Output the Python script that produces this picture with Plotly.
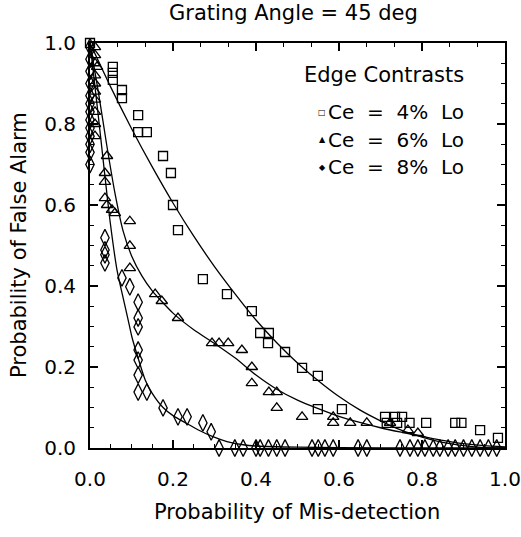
import plotly.graph_objects as go

# ---- data ----
sq_x = [0.0, 0.055, 0.055, 0.055, 0.077, 0.077, 0.116, 0.116, 0.137, 0.176, 0.195, 0.2, 0.212,
        0.272, 0.330, 0.390, 0.41, 0.431, 0.429, 0.47, 0.511, 0.549, 0.549, 0.607,
        0.711, 0.735, 0.752, 0.715, 0.74, 0.77, 0.81, 0.88, 0.895, 0.94, 0.983]
sq_y = [1.0, 0.941, 0.926, 0.909, 0.884, 0.864, 0.822, 0.780, 0.780, 0.721, 0.679, 0.6, 0.538,
        0.417, 0.380, 0.338, 0.284, 0.284, 0.259, 0.237, 0.198, 0.178, 0.096, 0.096,
        0.077, 0.077, 0.077, 0.062, 0.062, 0.062, 0.062, 0.062, 0.062, 0.044, 0.025]

tri_x = [0.012, 0.012, 0.012, 0.012, 0.012, 0.012, 0.012, 0.012, 0.012, 0.012, 0.017,
         0.041, 0.036, 0.036, 0.036, 0.041, 0.053, 0.06, 0.096, 0.096, 0.096,
         0.157, 0.173, 0.212, 0.294, 0.311, 0.333, 0.366, 0.39, 0.39, 0.431, 0.45, 0.45,
         0.511, 0.586, 0.586, 0.627, 0.667, 0.723, 0.766, 0.79]
tri_y = [0.99, 0.97, 0.95, 0.92, 0.90, 0.88, 0.86, 0.83, 0.80, 0.77, 0.941,
         0.721, 0.679, 0.657, 0.617, 0.600, 0.588, 0.580, 0.560, 0.499, 0.444,
         0.380, 0.363, 0.321, 0.259, 0.259, 0.259, 0.242, 0.200, 0.160, 0.138, 0.138, 0.099,
         0.077, 0.077, 0.062, 0.062, 0.062, 0.062, 0.044, 0.037]

dia_x = [0.0, 0.0, 0.0, 0.0, 0.0, 0.0, 0.0, 0.0, 0.0, 0.0, 0.0, 0.0, 0.0,
         0.036, 0.036, 0.036, 0.036, 0.077, 0.096, 0.116, 0.116, 0.116, 0.116, 0.116,
         0.116, 0.116, 0.137, 0.176, 0.212, 0.234, 0.272, 0.292,
         0.311, 0.349, 0.369, 0.40, 0.41, 0.43, 0.45, 0.47, 0.535, 0.55, 0.566, 0.586,
         0.646, 0.667, 0.747, 0.771, 0.79, 0.807, 0.827, 0.843, 0.863, 0.88, 0.90,
         0.92, 0.94, 0.96, 0.98]
dia_y = [0.99, 0.96, 0.93, 0.90, 0.87, 0.85, 0.83, 0.81, 0.79, 0.77, 0.75, 0.73, 0.70,
         0.519, 0.489, 0.477, 0.457, 0.420, 0.398, 0.360, 0.321, 0.299, 0.242, 0.217,
         0.180, 0.138, 0.138, 0.099, 0.077, 0.077, 0.062, 0.040,
         0.0, 0.0, 0.0, 0.0, 0.0, 0.0, 0.0, 0.0, 0.0, 0.0, 0.0, 0.0,
         0.0, 0.0, 0.0, 0.0, 0.0, 0.0, 0.0, 0.0, 0.0, 0.0, 0.0,
         0.0, 0.0, 0.0, 0.0]

# fitted curves
fit4_x = [0, 0.05, 0.1, 0.15, 0.2, 0.25, 0.3, 0.35, 0.4, 0.45, 0.5, 0.55, 0.6, 0.65,
          0.7, 0.75, 0.8, 0.85, 0.9, 0.95, 1.0]
fit4_y = [1.0, 0.891, 0.789, 0.694, 0.605, 0.523, 0.448, 0.380, 0.316, 0.260, 0.210,
          0.166, 0.127, 0.094, 0.067, 0.044, 0.027, 0.014, 0.006, 0.001, 0.0]

fit6_x = [0, 0.02, 0.04, 0.06, 0.08, 0.1, 0.125, 0.15, 0.2, 0.25, 0.3, 0.35, 0.4, 0.45,
          0.5, 0.55, 0.6, 0.65, 0.7, 0.75, 0.8, 0.85, 0.9, 0.95, 1.0]
fit6_y = [1.0, 0.88, 0.75, 0.63, 0.535, 0.475, 0.425, 0.388, 0.333, 0.292, 0.258, 0.222,
          0.180, 0.145, 0.118, 0.097, 0.078, 0.063, 0.050, 0.039, 0.029, 0.019, 0.011,
          0.006, 0.003]

fit8_x = [0, 0.02, 0.035, 0.048, 0.065, 0.08, 0.092, 0.101, 0.115, 0.133, 0.15, 0.176,
          0.2, 0.234, 0.26, 0.296, 0.33, 0.369, 0.4, 0.5, 0.7, 1.0]
fit8_y = [1.0, 0.82, 0.68, 0.563, 0.44, 0.37, 0.316, 0.274, 0.225, 0.168, 0.135, 0.100,
          0.080, 0.060, 0.045, 0.028, 0.016, 0.008, 0.005, 0.002, 0.0005, 0.0]

title_text = "Grating Angle = 45 deg"
x_title = "Probability of Mis-detection"
y_title = "Probability of False Alarm"
legend_title = "Edge Contrasts"
legend_labels = ["Ce = 4% Lo", "Ce = 6% Lo", "Ce = 8% Lo"]
legend_syms = ["\u25a1", "\u25b2", "\u25c6"]
tick_vals = [0.0, 0.2, 0.4, 0.6, 0.8, 1.0]
tick_text = ["0.0", "0.2", "0.4", "0.6", "0.8", "1.0"]

FONT = "DejaVu Sans"

fig = go.Figure()
for fx, fy in [(fit4_x, fit4_y), (fit6_x, fit6_y), (fit8_x, fit8_y)]:
    fig.add_trace(go.Scatter(x=fx, y=fy, mode="lines",
                             line=dict(color="black", width=1.3, shape="spline", smoothing=0.6),
                             showlegend=False, hoverinfo="skip"))

fig.add_trace(go.Scatter(x=sq_x, y=sq_y, mode="markers", showlegend=False, cliponaxis=False,
                         marker=dict(symbol="square-open", size=9, color="black", line=dict(width=1.3))))
fig.add_trace(go.Scatter(x=tri_x, y=tri_y, mode="markers", showlegend=False, cliponaxis=False,
                         marker=dict(symbol="triangle-up-open", size=10, color="black", line=dict(width=1.3))))
fig.add_trace(go.Scatter(x=dia_x, y=dia_y, mode="markers", showlegend=False, cliponaxis=False,
                         marker=dict(symbol="diamond-tall-open", size=12, color="black", line=dict(width=1.3))))
# invisible trace to activate top axis
fig.add_trace(go.Scatter(x=[0, 1], y=[0, 1], xaxis="x2", mode="markers", marker=dict(opacity=0),
                         showlegend=False, hoverinfo="skip"))

axis_common = dict(range=[0, 1], showgrid=False, zeroline=False, showline=True, linecolor="black",
                   linewidth=2, ticks="inside", ticklen=8, tickwidth=1.5, tickcolor="black",
                   tickvals=tick_vals, ticktext=tick_text, automargin=False,
                   tickfont=dict(family=FONT, size=20, color="black"))

fig.update_layout(
    width=521, height=537,
    margin=dict(l=90, r=16, t=43, b=89),
    paper_bgcolor="white", plot_bgcolor="white",
    font=dict(family=FONT, color="black"),
    xaxis=dict(**axis_common, mirror=False, ticklabelstandoff=12,
               minor=dict(tick0=0, dtick=0.05, ticks="inside", ticklen=4, tickwidth=1.2, tickcolor="black")),
    xaxis2=dict(range=[0, 1], overlaying="x", side="top", showgrid=False, zeroline=False,
                showline=True, linecolor="black", linewidth=2, showticklabels=False, automargin=False,
                ticks="inside", ticklen=8, tickwidth=1.5, tickcolor="black", tickvals=tick_vals,
                minor=dict(tick0=0, dtick=1/15, ticks="inside", ticklen=4, tickwidth=1.2, tickcolor="black")),
    yaxis=dict(**axis_common, mirror="ticks", ticklabelstandoff=8,
               minor=dict(tick0=0, dtick=0.05, ticks="inside", ticklen=4, tickwidth=1.2, tickcolor="black")),
)

PW, PH = 415.0, 405.0
ann = [
    dict(text=title_text, x=(293 - 90) / PW, y=1 + (43 - 13) / PH, xref="paper", yref="paper",
         xanchor="center", yanchor="middle", showarrow=False,
         font=dict(family=FONT, size=21, color="black")),
    dict(text=x_title, x=(297 - 90) / PW, y=-(512 - 448) / PH, xref="paper", yref="paper",
         xanchor="center", yanchor="middle", showarrow=False,
         font=dict(family=FONT, size=21, color="black")),
    dict(text=y_title, x=-(90 - 19) / PW, y=(448 - 245) / PH, xref="paper", yref="paper",
         xanchor="center", yanchor="middle", showarrow=False, textangle=-90,
         font=dict(family=FONT, size=21, color="black")),
    dict(text=legend_title, x=(466 - 90) / PW, y=(448 - 75) / PH, xref="paper", yref="paper",
         xanchor="right", yanchor="middle", showarrow=False,
         font=dict(family=FONT, size=21, color="black")),
]
for i, (lab, sym) in enumerate(zip(legend_labels, legend_syms)):
    ypx = 112 + 27.5 * i
    ann.append(dict(text=lab.replace(' ', chr(160) + ' '),
                    x=(466 - 90) / PW, y=(448 - ypx) / PH, xref="paper", yref="paper",
                    xanchor="right", yanchor="middle", showarrow=False,
                    font=dict(family=FONT, size=20, color="black")))
    ann.append(dict(text=sym, x=(322 - 90) / PW, y=(448 - ypx) / PH, xref="paper", yref="paper",
                    xanchor="center", yanchor="middle", showarrow=False,
                    font=dict(family=FONT, size=8, color="black")))
fig.update_layout(annotations=ann)

fig.write_html("out.html")
